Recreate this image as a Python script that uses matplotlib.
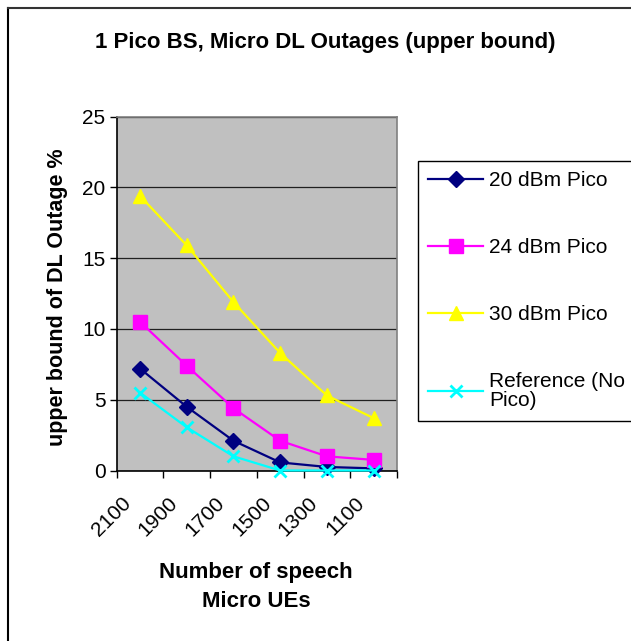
import matplotlib
matplotlib.use("Agg")
import matplotlib.pyplot as plt
from matplotlib.lines import Line2D
from matplotlib.transforms import ScaledTranslation

plt.rcParams['font.family'] = ['Liberation Sans', 'DejaVu Sans']

categories = ["2100", "1900", "1700", "1500", "1300", "1100"]
pico20 = [7.2, 4.5, 2.1, 0.57, 0.25, 0.15]
pico24 = [10.5, 7.4, 4.4, 2.1, 1.0, 0.75]
pico30 = [19.4, 15.9, 11.9, 8.3, 5.3, 3.7]
reference = [5.5, 3.05, 1.0, 0.0, 0.0, 0.0]

series = [
    ("20 dBm Pico", pico20, "#000080", "D", 8.5),
    ("24 dBm Pico", pico24, "#FF00FF", "s", 9.5),
    ("30 dBm Pico", pico30, "#FFFF00", "^", 10),
    ("Reference (No\nPico)", reference, "#00FFFF", "x", 9),
]

W, H = 631, 641
fig = plt.figure(figsize=(W / 100, H / 100), dpi=100)
fig.patch.set_facecolor("white")

left, right, top, bottom = 116.7, 397.0, 116.7, 470.5
ax = fig.add_axes([left / W, 1 - bottom / H, (right - left) / W, (bottom - top) / H])
ax.set_facecolor("#C0C0C0")

x = list(range(len(categories)))
for label, vals, color, marker, ms in series:
    ax.plot(x, vals, color=color, lw=1.6, marker=marker, markersize=ms,
            markerfacecolor=color, markeredgecolor=color,
            markeredgewidth=2 if marker == "x" else 1, label=label, clip_on=False, zorder=3)

ax.set_xlim(-0.5, len(categories) - 0.5)
ax.set_ylim(0, 25)
ax.set_yticks([0, 5, 10, 15, 20, 25])
ax.yaxis.grid(True, color="#202020", lw=0.9)
ax.set_axisbelow(True)

ax.set_xticks(x)
ax.set_xticklabels(categories, rotation=45, ha="right", va="center",
                   rotation_mode="anchor", fontsize=15)
ax.set_xticks([i - 0.5 for i in range(len(categories) + 1)], minor=True)
ax.tick_params(axis="x", which="major", length=0, pad=21)
ax.tick_params(axis="x", which="minor", length=5, width=1, direction="out", color="black")
ax.tick_params(axis="y", length=5, width=1, direction="out", labelsize=15, pad=3)
off = ScaledTranslation(-12 / 100, 0, fig.dpi_scale_trans)
for lab in ax.get_xticklabels():
    lab.set_transform(lab.get_transform() + off)

for s in ["left", "bottom"]:
    ax.spines[s].set_color("black")
    ax.spines[s].set_linewidth(1.2)
for s in ["top", "right"]:
    ax.spines[s].set_color("#808080")
    ax.spines[s].set_linewidth(1.2)

fig.text(325.5 / W, 1 - 48.3 / H, "1 Pico BS, Micro DL Outages (upper bound)",
         ha="center", va="baseline", fontsize=16, fontweight="bold")
fig.text(58 / W, 1 - 297.5 / H, "upper bound of DL Outage %", rotation=90,
         ha="center", va="center", fontsize=15.5, fontweight="bold")
fig.text(256 / W, 1 - 587 / H, "Number of speech\nMicro UEs", ha="center",
         va="center", fontsize=16, fontweight="bold", linespacing=1.5)

leg = ax.legend(loc="upper left", bbox_to_anchor=(418 / W, 1 - 161 / H),
                bbox_transform=fig.transFigure, fontsize=15, frameon=True,
                fancybox=False, shadow=False, framealpha=1, edgecolor="black",
                borderpad=0.5, handlelength=2.6, handletextpad=0.3,
                labelspacing=2.3, borderaxespad=0)
leg.get_frame().set_linewidth(1.0)
leg.get_texts()[-1].set_linespacing(1.0)

fig.add_artist(Line2D([8 / W, 8 / W], [0, 1 - 8 / H], color="black", lw=1.5,
                      transform=fig.transFigure))
fig.add_artist(Line2D([8 / W, 1], [1 - 8 / H, 1 - 8 / H], color="#333333", lw=1.5,
                      transform=fig.transFigure))

fig.savefig("out.png", dpi=100)
